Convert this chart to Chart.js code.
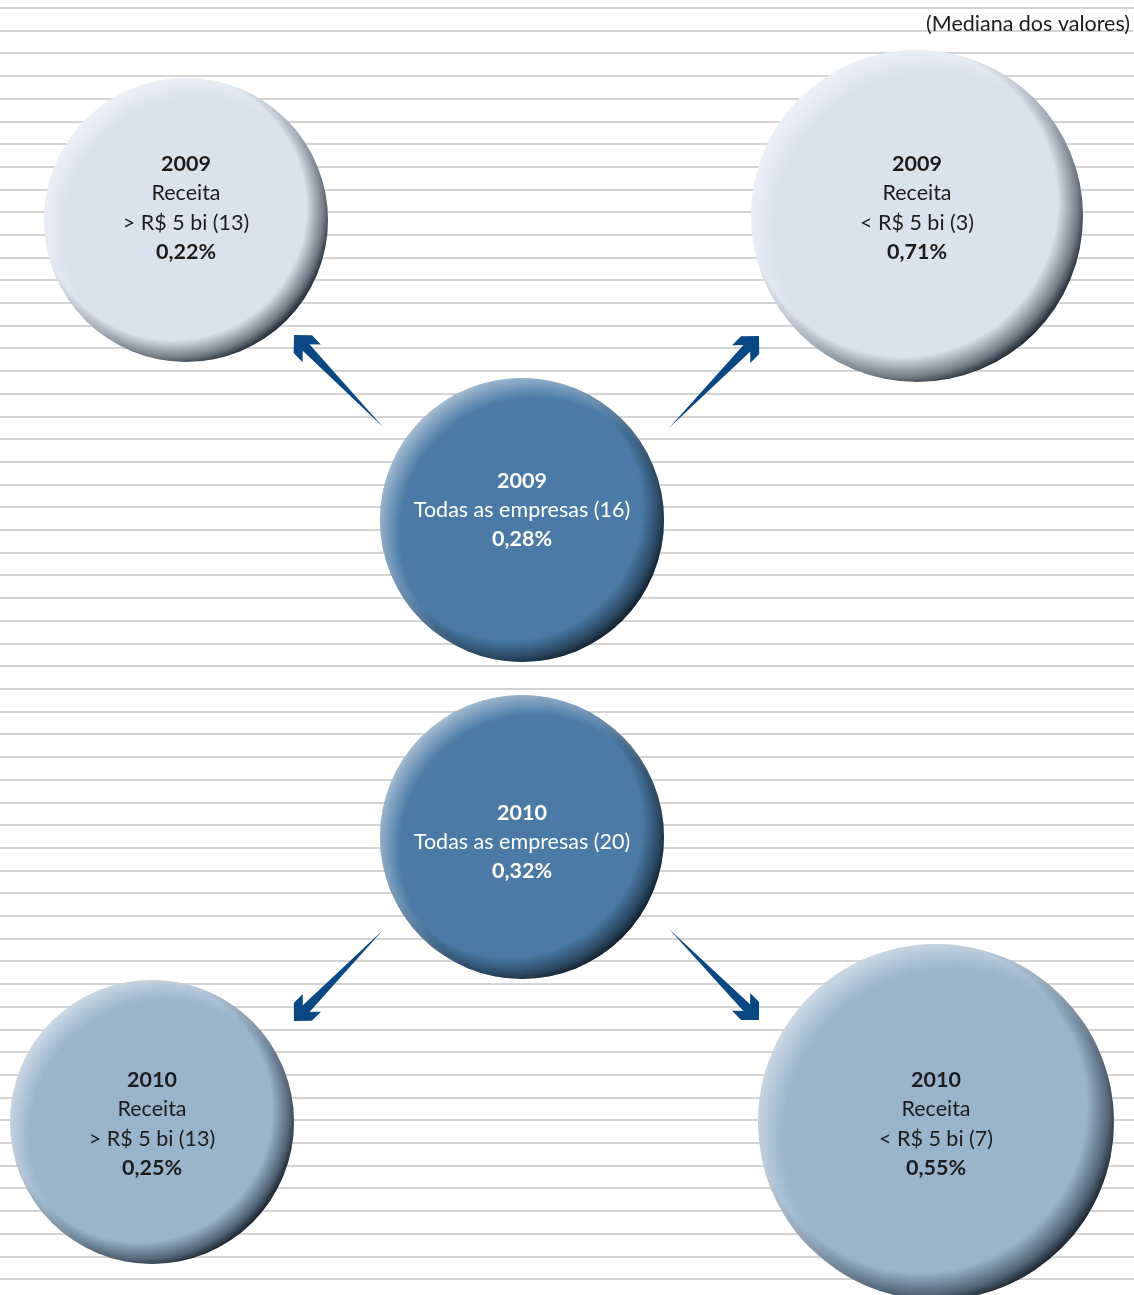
<!DOCTYPE html>
<html>
<head>
<meta charset="utf-8">
<script src="https://cdn.jsdelivr.net/npm/chart.js@4.4.1/dist/chart.umd.min.js"></script>
<style>
  body { margin: 0; background: #fff; }
  #wrap { position: relative; width: 1134px; height: 1295px; }
</style>
</head>
<body>
<div id="wrap"><canvas id="bubbles"></canvas></div>
<script>
// median per group of companies, 2009 and 2010
const years = [2009, 2009, 2009, 2010, 2010, 2010];
const groups = ['Todas as empresas', 'Receita|> R$ 5 bi', 'Receita|< R$ 5 bi',
                'Todas as empresas', 'Receita|> R$ 5 bi', 'Receita|< R$ 5 bi'];
const companies = [16, 13, 3, 20, 13, 7];
const medians = [0.28, 0.22, 0.71, 0.32, 0.25, 0.55];
const note = '(Mediana dos valores)';

// page layout (scale units are pixels of the page)
const posX = [522, 186, 917, 522, 152, 936];
const posY = [520, 220, 216, 837, 1122, 1122];
const radius = [142, 142, 166, 142, 142, 178];
const textShift = [-10, -12, -8, 5, 2, 2];
const fills = ['#4a7aa5', '#d9e3ec', '#d9e3ec', '#4a7aa5', '#9ab4cb', '#9ab4cb'];
const inks = ['#ffffff', '#1c1c1c', '#1c1c1c', '#ffffff', '#1c1c1c', '#1c1c1c'];

// arrows from the "all companies" bubbles: [tailX, tailY, tipX, tipY]
const arrows = [
  [383, 427, 294, 335],
  [669, 428, 759, 336],
  [383, 930, 294, 1021],
  [669, 929, 759, 1020]
];

const FONT = 'Lato, "Open Sans", sans-serif';
const pct = v => v.toFixed(2).replace('.', ',') + '%';

function shade(ctx, x, y, r) {
  ctx.save();
  ctx.beginPath();
  ctx.arc(x, y, r, 0, Math.PI * 2);
  ctx.clip();
  const k = 0.09 * r;
  const R = r + k * 1.42;
  let g = ctx.createRadialGradient(x - k, y - k, 0, x - k, y - k, R);
  g.addColorStop(0, 'rgba(12,22,32,0)');
  g.addColorStop(0.83, 'rgba(12,22,32,0)');
  g.addColorStop(0.94, 'rgba(12,22,32,0.5)');
  g.addColorStop(1, 'rgba(12,22,32,0.92)');
  ctx.fillStyle = g;
  ctx.fillRect(x - r, y - r, 2 * r, 2 * r);
  g = ctx.createRadialGradient(x + k, y + k, 0, x + k, y + k, R);
  g.addColorStop(0, 'rgba(255,255,255,0)');
  g.addColorStop(0.84, 'rgba(255,255,255,0)');
  g.addColorStop(1, 'rgba(255,255,255,0.5)');
  ctx.fillStyle = g;
  ctx.fillRect(x - r, y - r, 2 * r, 2 * r);
  ctx.restore();
}

function drawArrow(ctx, x0, y0, x1, y1) {
  const len = Math.hypot(x1 - x0, y1 - y0);
  const bx = (x0 - x1) / len, by = (y0 - y1) / len;   // pointing back from the tip
  const c = Math.SQRT1_2;
  const w1 = [c * (bx + by), c * (by - bx)];
  const w2 = [c * (bx - by), c * (by + bx)];
  const p = (a, b) => [x1 + a * w1[0] + b * w2[0], y1 + a * w1[1] + b * w2[1]];
  ctx.save();
  ctx.fillStyle = '#0a4884';
  // head
  const head = [p(0, 0), p(18, 0), p(27, 9), p(9, 9), p(9, 27), p(0, 18)];
  ctx.beginPath();
  head.forEach((q, i) => i ? ctx.lineTo(q[0], q[1]) : ctx.moveTo(q[0], q[1]));
  ctx.closePath();
  ctx.fill();
  // tapered shaft
  const base = p(8, 8);
  const nx = -by, ny = bx;
  ctx.beginPath();
  ctx.moveTo(base[0] + nx * 5, base[1] + ny * 5);
  ctx.lineTo(base[0] - nx * 5, base[1] - ny * 5);
  ctx.lineTo(x0, y0);
  ctx.closePath();
  ctx.fill();
  ctx.restore();
}

const decor = {
  id: 'decor',
  afterDatasetsDraw(chart) {
    const ctx = chart.ctx;
    const sx = chart.scales.x, sy = chart.scales.y;
    const meta = chart.getDatasetMeta(0);
    meta.data.forEach((el, i) => {
      shade(ctx, el.x, el.y, el.options.radius);
      const parts = groups[i].split('|');
      const lines = [String(years[i])];
      if (parts.length > 1) {
        lines.push(parts[0], parts[1] + ' (' + companies[i] + ')');
      } else {
        lines.push(parts[0] + ' (' + companies[i] + ')');
      }
      lines.push(pct(medians[i]));
      const lh = 29.3;
      const top = el.y + textShift[i] - (lines.length - 1) * lh / 2;
      ctx.save();
      ctx.fillStyle = inks[i];
      ctx.textAlign = 'center';
      ctx.textBaseline = 'middle';
      lines.forEach((t, j) => {
        const bold = j === 0 || j === lines.length - 1;
        ctx.font = (bold ? 'bold ' : '') + '21.5px ' + FONT;
        ctx.fillText(t, el.x, top + j * lh);
      });
      ctx.restore();
    });
    arrows.forEach(a => drawArrow(ctx,
      sx.getPixelForValue(a[0]), sy.getPixelForValue(a[1]),
      sx.getPixelForValue(a[2]), sy.getPixelForValue(a[3])));
    ctx.save();
    ctx.fillStyle = '#1c1c1c';
    ctx.font = '21.5px ' + FONT;
    ctx.textAlign = 'right';
    ctx.textBaseline = 'middle';
    ctx.fillText(note, sx.getPixelForValue(1130), sy.getPixelForValue(24));
    ctx.restore();
  }
};

new Chart(document.getElementById('bubbles').getContext('2d'), {
  type: 'bubble',
  data: {
    datasets: [{
      data: posX.map((x, i) => ({ x: x, y: posY[i], r: radius[i] })),
      backgroundColor: fills,
      borderWidth: 0,
      clip: false
    }]
  },
  options: {
    responsive: true,
    maintainAspectRatio: false,
    animation: false,
    events: [],
    layout: { padding: 0, autoPadding: false },
    plugins: { legend: { display: false }, tooltip: { enabled: false } },
    scales: {
      x: { type: 'linear', min: 0, max: 1134, display: false },
      y: {
        type: 'linear', min: 0, max: 1295, reverse: true,
        afterBuildTicks(scale) {
          const t = [];
          for (let v = 8; v < 1295; v += 22.7) t.push({ value: v });
          scale.ticks = t;
        },
        ticks: { display: false },
        border: { display: false },
        grid: { color: '#d4d4d4', lineWidth: 2, drawTicks: false }
      }
    }
  },
  plugins: [decor]
});
</script>
</body>
</html>
